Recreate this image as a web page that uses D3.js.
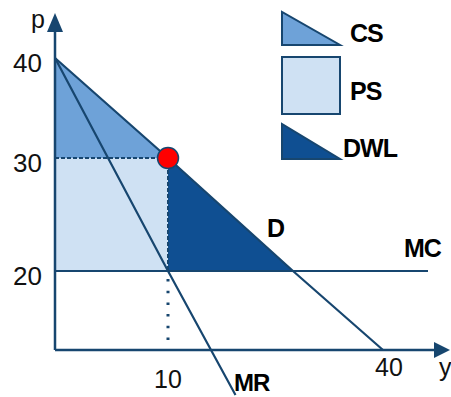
<!DOCTYPE html>
<html><head><meta charset="utf-8">
<script src="https://cdn.jsdelivr.net/npm/d3@7"></script>
<style>body{margin:0;background:#fff}svg{display:block}text{font-family:"Liberation Sans",Arial,sans-serif}</style>
</head><body><svg id="c" width="451" height="397"></svg>
<script>
// ---- data ----
const qTicks = [10, 40];
const pTicks = [20, 30, 40];
const demand = [[0,40],[10,30],[20,20],[40,0]];
const mr = [[0,40],[10,20],[15.4,-11.4]];
const mcPrice = 20, mcEnd = 50;
const monoQ = 10, monoP = 30;
const csArea = [[0,40],[monoQ,monoP],[0,monoP]];
const psArea = [[0,monoP],[monoQ,monoP],[monoQ,mcPrice],[0,mcPrice]];
const dwlArea = [[monoQ,monoP],[20,20],[monoQ,mcPrice]];
const legendItems = ["CS","PS","DWL"];

// ---- scales (schematic, piecewise) ----
const x = d3.scaleLinear().domain([0,10,20,40]).range([55,168,293,383]);
const y = d3.scaleLinear().domain([0,20,30,40]).range([350,271,158,58]);

const dark = "#17466f", cCS = "#6ea2d8", cPS = "#cfe1f3", cDWL = "#0f4f92";
const svg = d3.select("#c");
const line = d3.line().x(d=>x(d[0])).y(d=>y(d[1]));
const poly = d => line(d) + "Z";

svg.append("path").attr("d", poly(psArea)).attr("fill", cPS);
svg.append("path").attr("d", poly(csArea)).attr("fill", cCS);
svg.append("path").attr("d", poly(dwlArea)).attr("fill", cDWL);

// dashed guides
svg.append("line").attr("x1",x(0)).attr("x2",x(monoQ)).attr("y1",y(monoP)).attr("y2",y(monoP))
  .attr("stroke",dark).attr("stroke-width",2).attr("stroke-dasharray","4,2");
svg.append("line").attr("x1",x(monoQ)).attr("x2",x(monoQ)).attr("y1",y(monoP)).attr("y2",y(mcPrice))
  .attr("stroke",dark).attr("stroke-width",2).attr("stroke-dasharray","4,2");
svg.append("line").attr("x1",x(monoQ)).attr("x2",x(monoQ)).attr("y1",y(mcPrice)+8).attr("y2",y(0))
  .attr("stroke",dark).attr("stroke-width",3).attr("stroke-dasharray","2.5,9.2");

// curves
svg.append("path").attr("d", line(demand)).attr("fill","none").attr("stroke",dark).attr("stroke-width",2.2);
svg.append("path").attr("d", line(mr)).attr("fill","none").attr("stroke",dark).attr("stroke-width",2.2);
svg.append("line").attr("x1",x(0)).attr("x2",x(mcEnd)).attr("y1",y(mcPrice)).attr("y2",y(mcPrice))
  .attr("stroke",dark).attr("stroke-width",2.2);

// axes
svg.append("line").attr("x1",x(0)).attr("x2",437).attr("y1",y(0)).attr("y2",y(0)).attr("stroke",dark).attr("stroke-width",2.5);
svg.append("line").attr("x1",x(0)).attr("x2",x(0)).attr("y1",y(0)).attr("y2",30).attr("stroke",dark).attr("stroke-width",2.5);
svg.append("path").attr("d",`M450,${y(0)}L434,${y(0)-8}L434,${y(0)+8}Z`).attr("fill",dark);
svg.append("path").attr("d",`M${x(0)},13L${x(0)-8},32L${x(0)+8},32Z`).attr("fill",dark);

// point
svg.append("circle").attr("cx",x(monoQ)).attr("cy",y(monoP)).attr("r",10.5)
  .attr("fill","#ff0000").attr("stroke",dark).attr("stroke-width",1.5);

// tick labels
svg.selectAll(".pt").data(pTicks).enter().append("text").attr("x",42).attr("y",d=>y(d)+14)
  .attr("text-anchor","end").attr("font-size",26).attr("fill","#111").text(d=>d);
svg.selectAll(".qt").data(qTicks).enter().append("text").attr("x",d=>x(d)+(d===40?6:0)).attr("y",d=>d===40?376:388)
  .attr("text-anchor","middle").attr("font-size",25).attr("fill","#111").text(d=>d);
svg.append("text").attr("x",31).attr("y",28).attr("font-size",25).attr("fill","#111").text("p");
svg.append("text").attr("x",439).attr("y",376).attr("font-size",25).attr("fill","#111").text("y");

// curve labels
const bold = (t,xx,yy,fs)=>svg.append("text").attr("x",xx).attr("y",yy).attr("font-size",fs||25)
  .attr("font-weight","bold").attr("letter-spacing",-1).attr("fill","#000").text(t);
bold("D",267,237);
bold("MC",404,257);
bold("MR",234,391,24);

// legend
const lg = svg.append("g");
const shapes = [
  {fill:cCS, d:"M282,12L282,45L340,45Z"},
  {fill:cPS, d:"M282,57L340,57L340,114L282,114Z"},
  {fill:cDWL, d:"M282,124L282,159L340,159Z"}
];
const labelPos = [[350,42],[350,100],[343,157]];
legendItems.forEach((t,i)=>{
  lg.append("path").attr("d",shapes[i].d).attr("fill",shapes[i].fill).attr("stroke",dark).attr("stroke-width",2);
  lg.append("text").attr("x",labelPos[i][0]).attr("y",labelPos[i][1]).attr("font-size",25)
    .attr("font-weight","bold").attr("letter-spacing",-1).text(t);
});
</script></body></html>
